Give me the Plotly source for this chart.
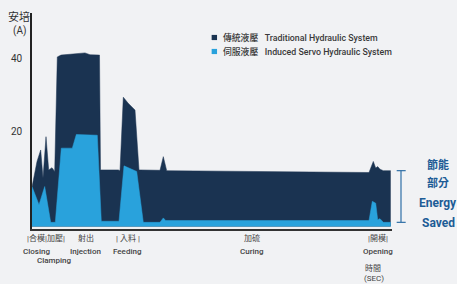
import plotly.graph_objects as go

# ---- data (time in s, current in A) ----
TRAD_T = [0.0, 0.5, 0.87, 1.1, 1.4, 1.67, 2.0, 2.27, 2.53, 2.9, 5.3, 5.8, 6.75, 6.85,
          8.63, 8.8, 9.13, 9.6, 10.3, 10.7, 12.8, 13.13, 13.47, 33.7, 34.13, 34.37,
          34.57, 34.8, 35.13, 35.87]
TRAD_A = [5.1, 12.0, 15.1, 7.5, 18.7, 9.7, 10.3, 9.3, 40.3, 40.8, 41.4, 40.9, 40.8, 9.7,
          9.7, 9.5, 29.4, 27.8, 25.9, 9.7, 9.6, 13.3, 9.5, 9.0, 12.0, 10.2,
          10.6, 9.9, 9.5, 9.5]

SERVO_T = [0.0, 0.7, 1.27, 1.87, 2.33, 2.93, 4.03, 4.43, 6.53, 6.93, 8.7, 9.2, 10.47,
           11.13, 12.8, 13.13, 13.37, 33.7, 34.03, 34.37, 34.57, 34.8, 35.13, 35.87]
SERVO_A = [5.2, 0.3, 5.2, -4.5, -4.5, 15.6, 15.6, 19.3, 19.1, -4.2, -4.2, 10.8, 9.3,
           -4.5, -4.5, -3.3, -4.0, -4.0, 1.2, 0.7, -3.8, -3.5, -4.5, -4.5]

BASE_A = -5.6
Y_TICKS = [20, 40]
Y_TICK_TEXT = ["20", "40"]

PHASE_TOP = [("|合模|加壓|", 1.35), ("射出", 5.4), ("|\u00a0入料\u00a0|", 9.63), ("加硫", 21.97), ("|開模|", 34.6)]
PHASE_EN = [("Closing", 0.42, 0), ("Clamping", 2.23, 1), ("Injection", 5.37, 0),
            ("Feeding", 9.55, 0), ("Curing", 21.95, 0), ("Opening", 34.58, 0)]

NAVY = "#1a3351"
BLUE = "#29a2dc"
BG = "#f1f2f4"
FONT = "Roboto, 'Noto Sans CJK TC', sans-serif"

fig = go.Figure()
fig.add_trace(go.Scatter(x=[TRAD_T[0], TRAD_T[-1]], y=[BASE_A, BASE_A], mode="lines",
                         line=dict(width=0), hoverinfo="skip", showlegend=False))
fig.add_trace(go.Scatter(x=TRAD_T, y=TRAD_A, mode="lines", fill="tonexty",
                         fillcolor=NAVY, line=dict(width=0.5, color=NAVY),
                         name="傳統液壓 Traditional Hydraulic System", showlegend=False))
fig.add_trace(go.Scatter(x=[SERVO_T[0], SERVO_T[-1]], y=[BASE_A, BASE_A], mode="lines",
                         line=dict(width=0), hoverinfo="skip", showlegend=False))
fig.add_trace(go.Scatter(x=SERVO_T, y=SERVO_A, mode="lines", fill="tonexty",
                         fillcolor=BLUE, line=dict(width=0.5, color=BLUE),
                         name="伺服液壓 Induced Servo Hydraulic System", showlegend=False))

annotations = []
shapes = []

# y title
annotations.append(dict(text="安培", x=-0.036, y=0.981, xref="paper", yref="paper",
                        xanchor="center", yanchor="middle", showarrow=False,
                        font=dict(size=11, color="#333", family=FONT)))
annotations.append(dict(text="(A)", x=-0.036, y=0.917, xref="paper", yref="paper",
                        xanchor="center", yanchor="middle", showarrow=False,
                        font=dict(size=10, color="#333", family=FONT)))

# legend
leg = [("傳統液壓\u00a0\u00a0\u00a0Traditional Hydraulic System", NAVY, 0.8866),
       ("伺服液壓\u00a0\u00a0\u00a0Induced Servo Hydraulic System", BLUE, 0.8218)]
for txt, col, yy in leg:
    annotations.append(dict(text=txt, x=0.525, y=yy, xref="paper", yref="paper",
                            xanchor="left", yanchor="middle", showarrow=False,
                            font=dict(size=8.8, color="#3a3a3a", family=FONT, weight=500)))
    shapes.append(dict(type="rect", xref="paper", yref="paper", x0=0.499, x1=0.514,
                       y0=yy - 0.012, y1=yy + 0.012, fillcolor=col, line=dict(width=0)))

# phase labels
for txt, t in PHASE_TOP:
    annotations.append(dict(text=txt, x=t, y=-0.043, xref="x", yref="paper",
                            xanchor="center", yanchor="middle", showarrow=False,
                            font=dict(size=8, color="#444", family=FONT)))
for txt, t, row in PHASE_EN:
    annotations.append(dict(text=txt, x=t, y=-0.102 - 0.046 * row, xref="x", yref="paper",
                            xanchor="center", yanchor="middle", showarrow=False,
                            font=dict(size=8, color="#444", family=FONT, weight=500)))
annotations.append(dict(text="時間", x=34.05, y=-0.182, xref="x", yref="paper",
                        xanchor="center", yanchor="middle", showarrow=False,
                        font=dict(size=8, color="#444", family=FONT)))
annotations.append(dict(text="(SEC)", x=34.2, y=-0.228, xref="x", yref="paper",
                        xanchor="center", yanchor="middle", showarrow=False,
                        font=dict(size=8, color="#444", family=FONT)))

# energy saved bracket
top_v = TRAD_A[-1]
bot_v = SERVO_A[-1]
BR = "#2f6fa6"
shapes.append(dict(type="line", xref="paper", yref="y", x0=1.025, x1=1.025,
                   y0=bot_v, y1=top_v, line=dict(color=BR, width=1.2)))
for v in (top_v, bot_v):
    shapes.append(dict(type="line", xref="paper", yref="y", x0=1.013, x1=1.038,
                       y0=v, y1=v, line=dict(color=BR, width=1.2)))
for txt, yy, sz in [("節能", 0.296, 11), ("部分", 0.213, 11), ("Energy", 0.120, 12), ("Saved", 0.028, 12)]:
    annotations.append(dict(text=txt, x=1.128, y=yy, xref="paper", yref="paper",
                            xanchor="center", yanchor="middle", showarrow=False,
                            font=dict(size=sz, color="#1d5c96", family=FONT, weight="bold")))

fig.update_layout(
    width=457, height=284,
    margin=dict(l=32, r=65, t=13, b=55),
    paper_bgcolor=BG, plot_bgcolor=BG,
    showlegend=False,
    annotations=annotations, shapes=shapes,
    xaxis=dict(range=[0, 36], showgrid=False, zeroline=False, showticklabels=False,
               showline=True, linecolor="#333", linewidth=2, ticks=""),
    yaxis=dict(range=[-6.3, 52.2], showgrid=False, zeroline=False,
               tickvals=Y_TICKS, ticktext=Y_TICK_TEXT, ticks="",
               tickfont=dict(size=10, color="#333", family=FONT),
               ticklabelstandoff=6,
               showline=True, linecolor="#222", linewidth=1.5),
)

fig.write_html("out.html", config={"displayModeBar": False},
               post_script="document.body.style.margin='0px';document.body.style.background='%s';" % BG)
